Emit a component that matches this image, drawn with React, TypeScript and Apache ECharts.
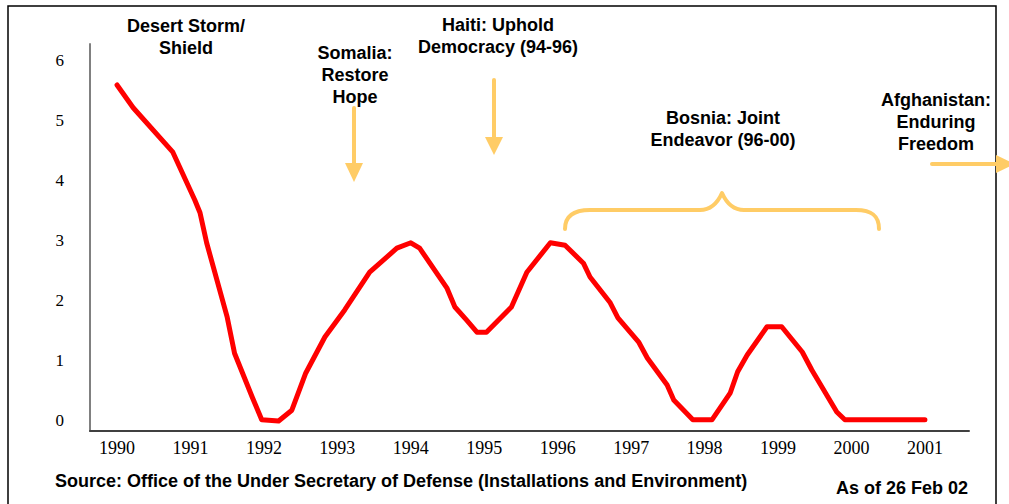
import React, { useEffect, useRef } from "react";
import * as echarts from "echarts";

const years = [
  1990.0, 1990.22, 1990.76, 1991.06, 1991.13, 1991.22, 1991.5, 1991.6, 1991.84, 1991.97,
  1992.2, 1992.38, 1992.57, 1992.7, 1992.83, 1993.1, 1993.44, 1993.81, 1994.0, 1994.12,
  1994.49, 1994.6, 1994.76, 1994.9, 1995.03, 1995.37, 1995.58, 1995.9, 1996.1, 1996.35,
  1996.44, 1996.71, 1996.82, 1997.1, 1997.22, 1997.49, 1997.58, 1997.84, 1998.1, 1998.35,
  1998.45, 1998.58, 1998.85, 1999.05, 1999.33, 1999.46, 1999.8, 1999.91, 2001.0,
];
const values = [
  5.6, 5.22, 4.48, 3.68, 3.47, 2.97, 1.73, 1.13, 0.4, 0.02,
  0.0, 0.18, 0.8, 1.1, 1.4, 1.85, 2.48, 2.88, 2.97, 2.88,
  2.22, 1.9, 1.68, 1.48, 1.48, 1.9, 2.48, 2.97, 2.93, 2.63,
  2.4, 1.98, 1.72, 1.32, 1.05, 0.6, 0.35, 0.02, 0.02, 0.47,
  0.82, 1.1, 1.57, 1.57, 1.15, 0.85, 0.15, 0.02, 0.02,
];
const xTickLabels = [1990, 1991, 1992, 1993, 1994, 1995, 1996, 1997, 1998, 1999, 2000, 2001];
const yTickLabels = [0, 1, 2, 3, 4, 5, 6];

const annotations = [
  { text: "Desert Storm/\nShield", x: 186, y: 36.5 },
  { text: "Somalia:\nRestore\nHope", x: 355, y: 75 },
  { text: "Haiti: Uphold\nDemocracy (94-96)", x: 498, y: 36 },
  { text: "Bosnia: Joint\nEndeavor (96-00)", x: 723, y: 128.5 },
  { text: "Afghanistan:\nEnduring\nFreedom", x: 936, y: 122 },
];
const sourceText = "Source: Office of the Under Secretary of Defense (Installations and Environment)";
const dateText = "As of 26 Feb 02";

const ORANGE = "#FFCC66";
const BOLD = 'bold 18px "Liberation Sans", Arial, sans-serif';

echarts.graphic.registerShape(
  "brace",
  echarts.graphic.extendPath(
    "M565,229 C565,215 575,210 590,210 L700,210 C712,210 718,202 722,193 C726,202 732,210 744,210 L856,210 C871,210 879,215 879,229",
    {}
  )
);

export default function App() {
  const ref = useRef<HTMLDivElement>(null);
  useEffect(() => {
    if (!ref.current) return;
    const chart = echarts.init(ref.current, null, { renderer: "svg" });
    const data = years.map((y, i) => [y, values[i]]);
    const arrowStyle = { stroke: ORANGE, lineWidth: 4, lineCap: "round" };
    chart.setOption({
      animation: false,
      backgroundColor: "#ffffff",
      grid: { left: 90, right: 40, top: 44, bottom: 73 },
      xAxis: {
        type: "value",
        min: 1989.632,
        max: 2001.6,
        splitLine: { show: false },
        axisTick: { show: false },
        axisLine: { show: true, onZero: false, lineStyle: { color: "#404040", width: 2 } },
        axisLabel: {
          customValues: xTickLabels,
          formatter: (v: number) => String(Math.round(v)),
          fontFamily: '"Liberation Serif", "Times New Roman", serif',
          fontSize: 18,
          color: "#000",
          margin: 8,
        },
      },
      yAxis: {
        type: "value",
        min: -0.1667,
        max: 6.283,
        splitLine: { show: false },
        axisTick: { show: false },
        axisLine: { show: true, onZero: false, lineStyle: { color: "#808080", width: 2 } },
        axisLabel: {
          customValues: yTickLabels,
          formatter: (v: number) => String(Math.round(v)),
          fontFamily: '"Liberation Serif", "Times New Roman", serif',
          fontSize: 17,
          color: "#000",
          margin: 26,
        },
      },
      series: [
        {
          type: "line",
          data,
          showSymbol: false,
          smooth: false,
          lineStyle: { color: "#FF0000", width: 5, cap: "round", join: "round" },
          z: 5,
        },
      ],
      graphic: [
        {
          type: "rect",
          shape: { x: 8, y: 6, width: 988, height: 520 },
          style: { fill: "none", stroke: "#000", lineWidth: 1.5 },
          silent: true,
        },
        ...annotations.map((a) => ({
          type: "text",
          x: a.x,
          y: a.y,
          style: {
            text: a.text,
            font: BOLD,
            fill: "#000",
            textAlign: "center",
            textVerticalAlign: "middle",
            lineHeight: 22,
          },
        })),
        {
          type: "text",
          x: 55,
          y: 481,
          style: { text: sourceText, font: BOLD, fill: "#000", textAlign: "left", textVerticalAlign: "middle" },
        },
        {
          type: "text",
          x: 836,
          y: 488,
          style: { text: dateText, font: BOLD, fill: "#000", textAlign: "left", textVerticalAlign: "middle" },
        },
        // Somalia arrow
        { type: "line", shape: { x1: 354, y1: 108, x2: 354, y2: 165 }, style: arrowStyle },
        { type: "polygon", shape: { points: [[345, 163], [363, 163], [354, 182]] }, style: { fill: ORANGE } },
        // Haiti arrow
        { type: "line", shape: { x1: 494, y1: 80, x2: 494, y2: 138 }, style: arrowStyle },
        { type: "polygon", shape: { points: [[485, 137], [503, 137], [494, 155]] }, style: { fill: ORANGE } },
        // Afghanistan arrow
        { type: "line", shape: { x1: 932, y1: 164, x2: 998, y2: 164 }, style: arrowStyle },
        { type: "polygon", shape: { points: [[996, 155], [996, 173], [1015, 164]] }, style: { fill: ORANGE } },
        // Bosnia brace
        {
          type: "brace",
          x: 0,
          y: 0,
          style: { fill: "none", stroke: ORANGE, lineWidth: 4, lineCap: "round", lineJoin: "round" },
        },
      ],
    });
    return () => chart.dispose();
  }, []);
  return (
    <div
      ref={ref}
      style={{ position: "fixed", left: 0, top: 0, width: 1009, height: 504, background: "#fff" }}
    />
  );
}
